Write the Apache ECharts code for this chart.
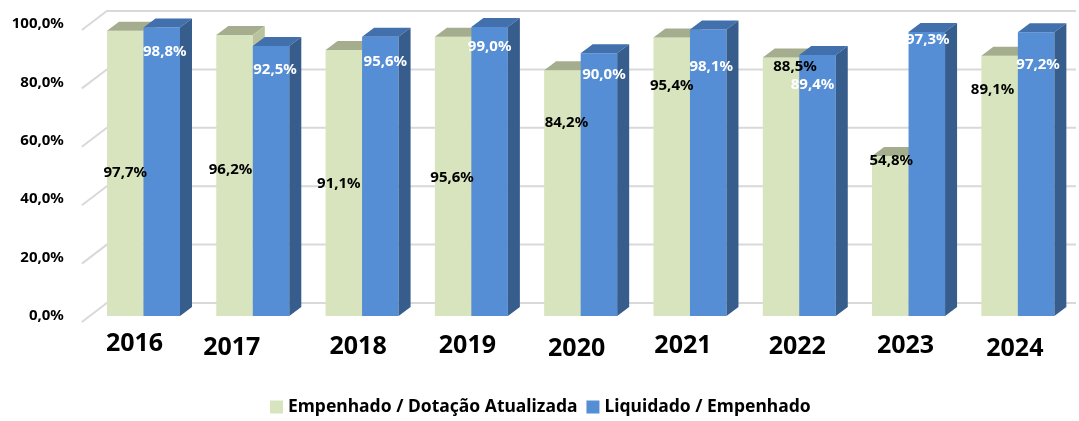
<!DOCTYPE html>
<html>
<head>
<meta charset="utf-8">
<script src="https://cdn.jsdelivr.net/npm/echarts@6/dist/echarts.min.js"></script>
<style>
html, body { margin: 0; padding: 0; background: #fff; }
#chart { width: 1079px; height: 421px; }
</style>
</head>
<body>
<div id="chart"></div>
<script>
var years = ['2016', '2017', '2018', '2019', '2020', '2021', '2022', '2023', '2024'];
var empenhado = [97.7, 96.2, 91.1, 95.6, 84.2, 95.4, 88.5, 54.8, 89.1];
var liquidado = [98.8, 92.5, 95.6, 99.0, 90.0, 98.1, 89.4, 97.3, 97.2];
var yTicks = [0, 20, 40, 60, 80, 100];

// onde ficam os rótulos (em % do eixo), como no original
var empLabelAt = [49.0, 50.0, 45.2, 47.3, 66.1, 78.8, 85.3, 53.1, 77.4];
var empLabelDx = [0, -4, -5, -1, 4, 0, 14, 1, -7];
var liqLabelAt = [90.4, 84.2, 87.0, 92.1, 82.5, 85.3, 79.1, 94.5, 86.0];
var liqLabelDx = [3, 4, 5, 0, 5, 3, -5, 1, 2];
// deslocamento dos anos (px)
var yearDx = [-9, -21, -4, -4, -4, -7, -2, -3, -3];
var yearDy = [-5, 2, 1, -1, 4, -1, 1, -1, 5];

var fontFamily = '"Noto Sans", sans-serif';
var DX = 12, DY = 9; // profundidade das barras

function fmt(v) {
	return v.toFixed(1).replace('.', ',') + '%';
}

function barRenderer(slot, colors, labelAt, labelDx, labelColor) {
	return function(params, api) {
		var idx = api.value(0);
		var val = api.value(1);
		var base = api.coord([idx, 0]);
		var tip = api.coord([idx, val]);
		var bw = api.size([1, 0])[0] * 0.334;
		var x0 = slot === 0 ? base[0] - bw : base[0];
		var x1 = x0 + bw;
		var lp = api.coord([idx, labelAt[idx]]);
		return {
			type: 'group',
			children: [
				{type: 'rect', shape: {x: x0, y: tip[1], width: bw, height: base[1] - tip[1]},
					style: {fill: colors[0]}},
				{type: 'polygon', shape: {points: [[x0, tip[1]], [x0 + DX, tip[1] - DY], [x1 + DX, tip[1] - DY], [x1, tip[1]]]},
					style: {fill: colors[1]}},
				{type: 'polygon', shape: {points: [[x1, tip[1]], [x1 + DX, tip[1] - DY], [x1 + DX, base[1] - DY], [x1, base[1]]]},
					style: {fill: colors[2]}},
				{type: 'text', z2: 100, style: {
					text: fmt(val), x: (x0 + x1) / 2 + labelDx[idx], y: lp[1],
					align: 'center', verticalAlign: 'middle',
					fontSize: 15, fontWeight: 'bold', fontFamily: fontFamily, fill: labelColor
				}}
			]
		};
	};
}

function gridRenderer(params, api) {
	var y = api.coord([0, api.value(0)])[1];
	var cs = params.coordSys;
	return {
		type: 'polyline',
		shape: {points: [[cs.x - 7, y + 6], [cs.x + 18, y - 13], [1076, y - 13]]},
		style: {stroke: '#d9d9d9', lineWidth: 2, fill: null}
	};
}

var yearRich = {};
years.forEach(function(y, i) {
	var dx = yearDx[i];
	yearRich['y' + i] = {
		fontSize: 25, fontWeight: 'bold', color: '#000', fontFamily: fontFamily,
		lineHeight: 28,
		padding: [5 + yearDy[i], dx < 0 ? -2 * dx : 0, 0, dx > 0 ? 2 * dx : 0]
	};
});

var chart = echarts.init(document.getElementById('chart'));
chart.setOption({
	animation: false,
	textStyle: {fontFamily: fontFamily},
	grid: {left: 88.85, right: 6.5, top: 24, bottom: 105},
	legend: {
		left: 270, top: 398, padding: 0,
		icon: 'rect', itemWidth: 13, itemHeight: 13, itemGap: 9,
		textStyle: {fontSize: 17.5, fontWeight: 'bold', color: '#000', fontFamily: fontFamily},
		data: ['Empenhado / Dotação Atualizada', 'Liquidado / Empenhado']
	},
	xAxis: {
		type: 'category',
		data: years,
		axisLine: {show: false},
		axisTick: {show: false},
		axisLabel: {
			margin: 14,
			formatter: function(v, i) { return '{y' + i + '|' + v + '}'; },
			rich: yearRich
		}
	},
	yAxis: {
		type: 'value',
		min: 0, max: 100, interval: 20,
		axisLine: {show: false},
		axisTick: {show: false},
		splitLine: {show: false},
		axisLabel: {
			fontSize: 15, fontWeight: 'bold', color: '#000', fontFamily: fontFamily,
			margin: 25, padding: [12, 0, 0, 0],
			formatter: function(v) { return fmt(v); }
		}
	},
	series: [
		{
			type: 'custom', name: 'grade', z: 1, silent: true,
			renderItem: gridRenderer,
			data: yTicks.map(function(v) { return [v]; }),
			encode: {y: 0}
		},
		{
			type: 'custom', name: 'Empenhado / Dotação Atualizada', z: 2,
			itemStyle: {color: '#d7e4bd'},
			renderItem: barRenderer(0, ['#d7e4bd', '#a4ad8e', '#b9c49f'], empLabelAt, empLabelDx, '#000'),
			data: empenhado.map(function(v, i) { return [i, v]; }),
			encode: {x: 0, y: 1}
		},
		{
			type: 'custom', name: 'Liquidado / Empenhado', z: 2,
			itemStyle: {color: '#558ed5'},
			renderItem: barRenderer(1, ['#558ed5', '#4170ad', '#375d8d'], liqLabelAt, liqLabelDx, '#fff'),
			data: liquidado.map(function(v, i) { return [i, v]; }),
			encode: {x: 0, y: 1}
		}
	]
});
</script>
</body>
</html>
